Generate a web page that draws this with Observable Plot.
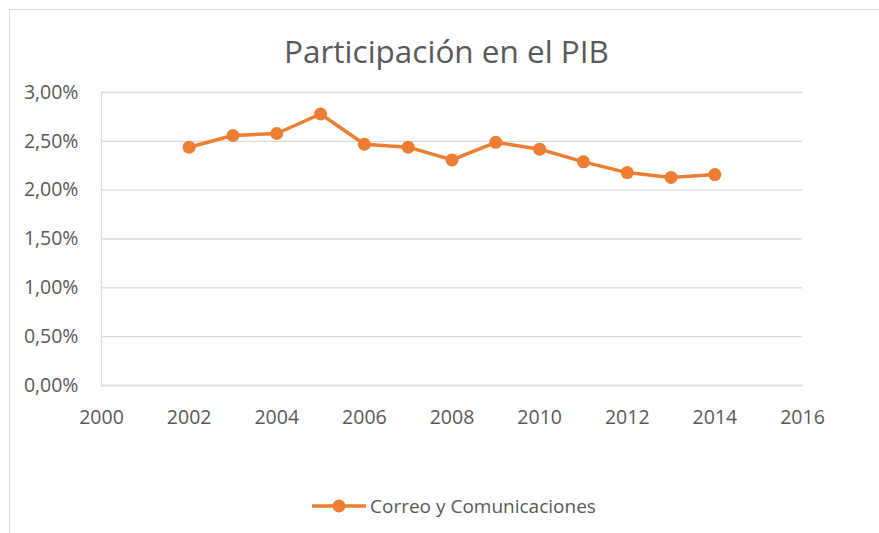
<!DOCTYPE html>
<html>
<head>
<meta charset="utf-8">
<script src="https://cdn.jsdelivr.net/npm/d3@7"></script>
<script src="https://cdn.jsdelivr.net/npm/@observablehq/plot@0.6"></script>
<style>
  html, body { margin: 0; padding: 0; background: #fff; }
  #wrap { position: relative; width: 879px; height: 533px; overflow: hidden; font-family: "Open Sans", sans-serif; }
  #frame { position: absolute; left: 9px; top: 9px; width: 900px; height: 600px; border-top: 1.5px solid #d9d9d9; border-left: 1.5px solid #d9d9d9; }
  #title { position: absolute; left: 0; width: 893px; top: 35px; text-align: center; font-size: 31.5px; line-height: 31.5px; color: #595959; }
  #chart { position: absolute; left: 0; top: 0; }
  #legend { position: absolute; left: 310px; top: 494px; height: 24px; display: flex; align-items: center; font-size: 19px; color: #595959; }
  #legend svg { margin-right: 4px; }
</style>
</head>
<body>
<div id="wrap">
  <div id="frame"></div>
  <div id="chart"></div>
  <div id="title"></div>
  <div id="legend"></div>
</div>
<script>
const titleText = "Participación en el PIB";
const seriesName = "Correo y Comunicaciones";
const years = [2002, 2003, 2004, 2005, 2006, 2007, 2008, 2009, 2010, 2011, 2012, 2013, 2014];
const values = [2.44, 2.56, 2.58, 2.78, 2.47, 2.44, 2.31, 2.49, 2.42, 2.29, 2.18, 2.13, 2.16];
const xTicks = [2000, 2002, 2004, 2006, 2008, 2010, 2012, 2014, 2016];
const yTicks = [0, 0.5, 1, 1.5, 2, 2.5, 3];

const color = "#ED7D31";
const data = years.map((year, i) => ({year, value: values[i]}));
const fmtY = d => d.toFixed(2).replace(".", ",") + "%";

const chart = Plot.plot({
  width: 879,
  height: 450,
  marginTop: 92,
  marginBottom: 65,
  marginLeft: 101,
  marginRight: 77,
  style: {fontFamily: "Open Sans, sans-serif", fontSize: "19.5px", color: "#595959", background: "transparent", overflow: "visible"},
  x: {domain: [2000, 2016], label: null},
  y: {domain: [0, 3], label: null},
  marks: [
    Plot.gridY(yTicks, {stroke: "#d9d9d9", strokeOpacity: 1, strokeWidth: 1.3}),
    Plot.ruleX([2000], {stroke: "#d9d9d9", strokeWidth: 1.3}),
    Plot.ruleY([0], {stroke: "#d9d9d9", strokeWidth: 1.3}),
    Plot.axisX(xTicks, {tickSize: 0, tickPadding: 25, tickFormat: d => String(d), label: null}),
    Plot.axisY(yTicks, {tickSize: 0, tickPadding: 23, tickFormat: fmtY, label: null}),
    Plot.line(data, {x: "year", y: "value", stroke: color, strokeWidth: 3.5}),
    Plot.dot(data, {x: "year", y: "value", r: 6.5, fill: color, stroke: "none"})
  ]
});
document.getElementById("chart").appendChild(chart);
document.getElementById("title").textContent = titleText;

const legend = document.getElementById("legend");
const ns = "http://www.w3.org/2000/svg";
const sw = document.createElementNS(ns, "svg");
sw.setAttribute("width", 56); sw.setAttribute("height", 24);
const ln = document.createElementNS(ns, "line");
ln.setAttribute("x1", 2); ln.setAttribute("x2", 56); ln.setAttribute("y1", 12); ln.setAttribute("y2", 12);
ln.setAttribute("stroke", color); ln.setAttribute("stroke-width", 3.5);
const c = document.createElementNS(ns, "circle");
c.setAttribute("cx", 29); c.setAttribute("cy", 12); c.setAttribute("r", 6.5); c.setAttribute("fill", color);
sw.appendChild(ln); sw.appendChild(c);
legend.appendChild(sw);
const sp = document.createElement("span");
sp.textContent = seriesName;
legend.appendChild(sp);
</script>
</body>
</html>
